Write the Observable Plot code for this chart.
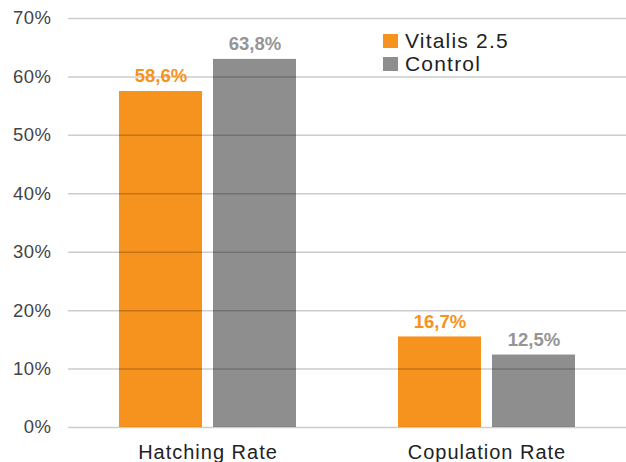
<!DOCTYPE html>
<html>
<head>
<meta charset="utf-8">
<script src="https://cdn.jsdelivr.net/npm/d3@7"></script>
<script src="https://cdn.jsdelivr.net/npm/@observablehq/plot@0.6"></script>
<style>
  body { margin: 0; background: #fff; }
  #wrap { position: relative; width: 626px; height: 462px; font-family: "Liberation Sans", Arial, sans-serif; }
  .legend { position: absolute; left: 383px; font-size: 21px; letter-spacing: 1.2px; color: #222; line-height: 1; }
  .legend .sw { display: inline-block; width: 15px; height: 14px; vertical-align: baseline; margin-right: 7px; position: relative; top: 0px; }
</style>
</head>
<body>
<div id="wrap"></div>
<script>
const categories = ["Hatching Rate", "Copulation Rate"];
const series = ["Vitalis 2.5", "Control"];
const colors = ["#F6921E", "#8E8E8F"];
const labelColors = ["#F6921E", "#959595"];
// bar heights as drawn (%)
const vitalisBars = [57.5, 15.5];
const controlBars = [63.0, 12.4];
// printed value labels
const vitalisLabels = ["58,6%", "16,7%"];
const controlLabels = ["63,8%", "12,5%"];
const yTicks = [0, 10, 20, 30, 40, 50, 60, 70];

const data = [];
categories.forEach((c, i) => {
  data.push({category: c, series: series[0], bar: vitalisBars[i], label: vitalisLabels[i]});
  data.push({category: c, series: series[1], bar: controlBars[i], label: controlLabels[i]});
});

const chart = Plot.plot({
  width: 626,
  height: 462,
  marginLeft: 68,
  marginRight: 0,
  marginTop: 18,
  marginBottom: 35,
  style: {fontFamily: "'Liberation Sans', Arial, sans-serif", background: "#fff"},
  fx: {domain: categories, padding: 0, label: null},
  x: {domain: series, paddingInner: 0.116, paddingOuter: 0.53, axis: null},
  y: {domain: [0, 70], label: null},
  color: {domain: series, range: colors},
  marks: [
    Plot.barY(data, {fx: "category", x: "series", y: "bar", fill: "series"}),
    Plot.ruleY(yTicks, {stroke: "#000", strokeOpacity: 0.2, strokeWidth: 1.5}),
    Plot.text(data, {fx: "category", x: "series", y: "bar", text: "label", dy: -15,
      fill: d => labelColors[series.indexOf(d.series)], fontWeight: "bold", fontSize: 18.5,
      style: "letter-spacing:0.5px"}),
    Plot.axisY({ticks: yTicks, tickFormat: d => d + "%", tickSize: 0, tickPadding: 17,
      fontSize: 18.5, fill: "#444", label: null}),
    Plot.axisFx({anchor: "bottom", tickSize: 0, tickPadding: 17, fontSize: 20, fill: "#222", label: null})
  ]
});
document.getElementById("wrap").appendChild(chart);

// legend
const wrap = document.getElementById("wrap");
series.forEach((s, i) => {
  const d = document.createElement("div");
  d.className = "legend";
  d.style.top = (30 + i * 23) + "px";
  d.innerHTML = `<span class="sw" style="background:${colors[i]}"></span>${s}`;
  wrap.appendChild(d);
});
d3.selectAll("#wrap svg text").filter(function() { return /Rate/.test(this.textContent); }).style("letter-spacing", "1px");
d3.selectAll("#wrap svg text").filter(function() { return /^\d+%$/.test(this.textContent); }).style("letter-spacing", "0.5px");
</script>
</body>
</html>
